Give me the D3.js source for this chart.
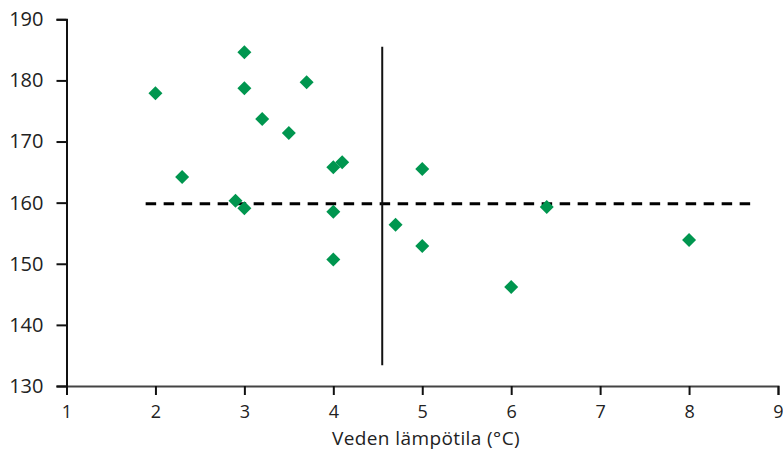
<!DOCTYPE html>
<html><head><meta charset="utf-8">
<script src="https://cdn.jsdelivr.net/npm/d3@7"></script>
<style>body{margin:0;background:#fff}svg{display:block}text{font-family:"Open Sans","Noto Sans",sans-serif;fill:#222}</style>
</head><body><svg id="c" width="783" height="452"></svg>
<script>
const temps = [2.0, 2.3, 2.9, 3.0, 3.0, 3.0, 3.2, 3.5, 3.7, 4.0, 4.1, 4.0, 4.0, 4.7, 5.0, 5.0, 6.0, 6.4, 8.0];
const values = [177.9, 164.2, 160.3, 159.1, 184.6, 178.7, 173.7, 171.4, 179.7, 165.8, 166.6, 158.5, 150.7, 156.4, 165.5, 152.9, 146.2, 159.3, 153.9];
const xTicks = [1, 2, 3, 4, 5, 6, 7, 8, 9];
const yTicks = [130, 140, 150, 160, 170, 180, 190];
const meanLineX = [1.89, 8.71], meanLineY = 159.8;
const vLineX = 4.55, vLineY = [133.4, 185.5];
const xTitle = "Veden lämpötila (°C)";

const svg = d3.select("#c");
const x = d3.scaleLinear().domain([1, 9]).range([66.5, 778]);
const y = d3.scaleLinear().domain([130, 190]).range([386, 19.3]);

const gx = svg.append("g").attr("transform", "translate(0,386)")
  .call(d3.axisBottom(x).tickValues(xTicks).tickSize(9).tickPadding(10).tickFormat(d3.format("d")));
gx.select(".domain").attr("stroke", "#444").attr("stroke-width", 2);
gx.selectAll(".tick line").attr("stroke", "#111").attr("stroke-width", 2);
gx.selectAll("text").attr("font-size", 18).style("font-family", "'Open Sans','Noto Sans',sans-serif").attr("fill", "#222");

const gy = svg.append("g").attr("transform", "translate(66.5,0)")
  .call(d3.axisLeft(y).tickValues(yTicks).tickSize(10).tickPadding(13).tickFormat(d3.format("d")));
gy.select(".domain").attr("stroke", "#111").attr("stroke-width", 2);
gy.selectAll(".tick line").attr("stroke", "#111").attr("stroke-width", 2);
gy.selectAll("text").attr("font-size", 20).style("font-family", "'Open Sans','Noto Sans',sans-serif").attr("fill", "#222");

svg.append("text").attr("x", 426).attr("y", 445).attr("text-anchor", "middle")
  .attr("font-size", 19).attr("letter-spacing", 0.4).text(xTitle);

svg.append("line").attr("x1", x(meanLineX[0])).attr("x2", x(meanLineX[1]))
  .attr("y1", y(meanLineY)).attr("y2", y(meanLineY))
  .attr("stroke", "#000").attr("stroke-width", 3).attr("stroke-dasharray", "10.5,7.5");

svg.append("line").attr("x1", x(vLineX)).attr("x2", x(vLineX))
  .attr("y1", y(vLineY[0])).attr("y2", y(vLineY[1]))
  .attr("stroke", "#111").attr("stroke-width", 2);

const sym = d3.symbol().type(d3.symbolSquare).size(98);
svg.append("g").selectAll("path").data(temps).join("path")
  .attr("d", sym)
  .attr("transform", (d, i) => `translate(${x(d)},${y(values[i])}) rotate(45)`)
  .attr("fill", "#00964f");
</script></body></html>
